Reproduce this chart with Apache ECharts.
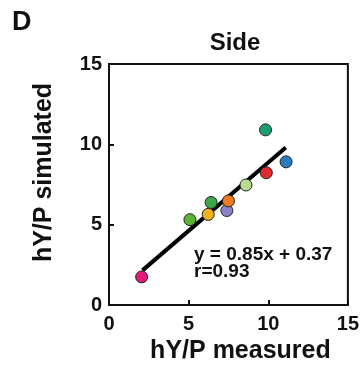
<!DOCTYPE html>
<html>
<head>
<meta charset="utf-8">
<script src="https://cdn.jsdelivr.net/npm/echarts@6/dist/echarts.min.js"></script>
<style>
  html, body { margin: 0; padding: 0; background: #fff; }
  #chart { width: 362px; height: 369px; }
</style>
</head>
<body>
<div id="chart"></div>
<script>
// measured vs simulated hY/P, one point per sample
const measured = [2.05, 5.08, 6.23, 6.41, 7.4, 7.5, 8.6, 9.83, 9.88, 11.12];
const simulated = [1.75, 5.31, 5.64, 6.38, 5.88, 6.48, 7.47, 10.9, 8.23, 8.91];
const pointColors = ['#e4197c', '#5bb334', '#f2b31c', '#3aa648', '#8a83c6', '#ee7a22', '#b9dc8e', '#1c9e74', '#e02a2e', '#2a7cc0'];

// regression fit
const fitSlope = 0.85;
const fitIntercept = 0.37;
const fitRange = [2.1, 11.1];
const fitLabel = ['y = 0.85x + 0.37', 'r=0.93'];

const chart = echarts.init(document.getElementById('chart'));

const fontFamily = '"Liberation Sans", Arial, sans-serif';

const scatterData = measured.map((x, i) => ({
  value: [x, simulated[i]],
  itemStyle: { color: pointColors[i] }
}));

const fitData = fitRange.map(x => [x, fitSlope * x + fitIntercept]);

const option = {
  animation: false,
  textStyle: { fontFamily: fontFamily },
  title: {
    text: 'Side',
    left: 230,
    top: 26,
    textAlign: 'center',
    textStyle: { fontSize: 24, fontWeight: 'bold', color: '#111', fontFamily: fontFamily }
  },
  grid: {
    left: 109,
    right: 9,
    top: 64,
    bottom: 62,
    show: true,
    borderColor: '#111',
    borderWidth: 2
  },
  xAxis: {
    type: 'value',
    min: 0,
    max: 15,
    interval: 5,
    name: 'hY/P measured',
    nameLocation: 'middle',
    nameGap: 34,
    nameTextStyle: { fontSize: 25, fontWeight: 'bold', color: '#111', padding: [0, 0, 0, 24] },
    axisLine: { lineStyle: { color: '#111', width: 2 } },
    axisTick: { inside: true, length: 5, lineStyle: { color: '#111', width: 2 } },
    axisLabel: { fontSize: 20, fontWeight: 'bold', color: '#111', margin: 9 },
    splitLine: { show: false }
  },
  yAxis: {
    type: 'value',
    min: 0,
    max: 15,
    interval: 5,
    name: 'hY/P simulated',
    nameLocation: 'middle',
    nameGap: 52,
    nameTextStyle: { fontSize: 25, fontWeight: 'bold', color: '#111', padding: [0, 0, 0, 24] },
    axisLine: { lineStyle: { color: '#111', width: 2 } },
    axisTick: { inside: true, length: 5, lineStyle: { color: '#111', width: 2 } },
    axisLabel: { fontSize: 20, fontWeight: 'bold', color: '#111', margin: 7 },
    splitLine: { show: false }
  },
  series: [
    {
      type: 'line',
      data: fitData,
      showSymbol: false,
      lineStyle: { color: '#000', width: 4 },
      z: 2
    },
    {
      type: 'scatter',
      data: scatterData,
      symbolSize: 12,
      itemStyle: { borderColor: '#222', borderWidth: 1, opacity: 1 },
      z: 3
    }
  ],
  graphic: [
    {
      type: 'text',
      left: 12,
      top: 9,
      style: { text: 'D', fontSize: 27, fontWeight: 'bold', fill: '#111', fontFamily: fontFamily }
    },
    {
      type: 'text',
      left: 194,
      top: 245,
      style: {
        text: fitLabel.join('\n'),
        fontSize: 19,
        fontWeight: 'bold',
        lineHeight: 17,
        fill: '#111',
        fontFamily: fontFamily
      }
    }
  ]
};

chart.setOption(option);
</script>
</body>
</html>
